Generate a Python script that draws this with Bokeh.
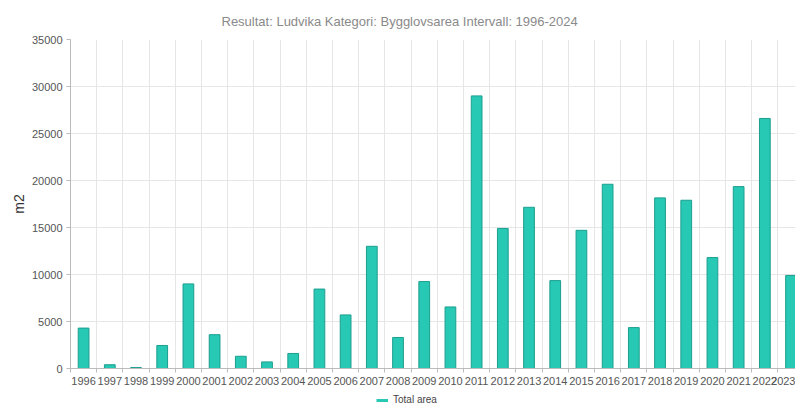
from bokeh.plotting import figure
from bokeh.layouts import column
from bokeh.models import Range1d, FixedTicker, Legend, LegendItem, ColumnDataSource
from bokeh.embed import file_html
from bokeh.resources import INLINE

years = [str(y) for y in range(1996, 2024)]
total_area = [4300, 400, 100, 2450, 9000, 3600, 1300, 700, 1600, 8450,
              5700, 13000, 3300, 9250, 6550, 29000, 14900, 17150, 9350, 14700,
              19600, 4350, 18150, 17900, 11800, 19350, 26600, 9900]
y_ticks = [0, 5000, 10000, 15000, 20000, 25000, 30000, 35000]
series_name = "Total area"

idx = list(range(len(years)))
src = ColumnDataSource(dict(x=idx, top=total_area, year=years))

FONT = "Liberation Sans"
BAR_FILL = "#27c9b5"
BAR_LINE = "#1c9e8f"

p = figure(width=795, height=390, output_backend="svg", toolbar_location=None,
           x_range=Range1d(-0.5, 27.17), y_range=Range1d(0, 35000),
           min_border_left=70, min_border_right=0, min_border_top=39,
           min_border_bottom=22)
p.outline_line_color = None
p.background_fill_color = "white"
p.border_fill_color = "white"

p.title.text = "Resultat: Ludvika Kategori: Bygglovsarea Intervall: 1996-2024"
p.title.align = "left"
p.title.offset = 151
p.title.standoff = 22
p.title.text_font = FONT
p.title.text_font_size = "13px"
p.title.text_font_style = "normal"
p.title.text_color = "#8a8a8a"

p.vbar(x="x", top="top", width=0.41, source=src,
       fill_color=BAR_FILL, line_color=BAR_LINE, line_width=1)

# x axis: labels at category centres, ticks/grid at category boundaries
centers = idx
bounds = [i - 0.5 for i in range(len(years) + 1)]
p.xaxis.ticker = FixedTicker(ticks=centers, minor_ticks=bounds)
p.xaxis.major_label_overrides = {i: y for i, y in zip(idx, years)}
p.xaxis.major_tick_line_color = None
p.xaxis.major_tick_out = 4
p.xaxis.minor_tick_out = 4
p.xaxis.minor_tick_in = 0
p.xaxis.minor_tick_line_color = "#bbbbbb"
p.xaxis.axis_line_color = "#bbbbbb"
p.xaxis.major_label_standoff = 4
p.xaxis.major_label_text_font = FONT
p.xaxis.major_label_text_font_size = "11px"
p.xaxis.major_label_text_color = "#555555"

p.xgrid.ticker = FixedTicker(ticks=centers, minor_ticks=bounds)
p.xgrid.grid_line_color = None
p.xgrid.minor_grid_line_color = "#e6e6e6"

# y axis
p.yaxis.ticker = FixedTicker(ticks=y_ticks)
p.yaxis.minor_tick_line_color = None
p.yaxis.major_tick_out = 4
p.yaxis.major_tick_in = 0
p.yaxis.major_tick_line_color = "#bbbbbb"
p.yaxis.axis_line_color = "#bbbbbb"
p.yaxis.major_label_standoff = 4
p.yaxis.major_label_text_font = FONT
p.yaxis.major_label_text_font_size = "11px"
p.yaxis.major_label_text_color = "#555555"
p.yaxis.axis_label = "m2"
p.yaxis.axis_label_text_font = FONT
p.yaxis.axis_label_text_font_size = "14px"
p.yaxis.axis_label_text_font_style = "normal"
p.yaxis.axis_label_text_color = "#333333"
p.yaxis.axis_label_standoff = 2
p.ygrid.grid_line_color = "#e6e6e6"

# legend strip below the chart (its own frame, so the legend is not clipped)
lg = figure(width=795, height=15, output_backend="svg", toolbar_location=None,
            x_range=Range1d(0, 1), y_range=Range1d(-2, -1),
            x_axis_location=None, y_axis_location=None,
            min_border_left=0, min_border_right=0, min_border_top=0,
            min_border_bottom=0)
lg.outline_line_color = None
lg.xgrid.visible = False
lg.ygrid.visible = False
# series drawn out of this strip's view; only its legend swatch shows
swatch = lg.line(x=idx, y=total_area, line_color=BAR_FILL, line_width=3)
legend = Legend(items=[LegendItem(label=series_name, renderers=[swatch])],
                orientation="horizontal", location=(306, 0),
                padding=0, margin=0, spacing=0, border_line_color=None,
                background_fill_alpha=0, glyph_width=12, glyph_height=10,
                label_standoff=5, label_text_font=FONT,
                label_text_font_size="10px", label_text_color="#444444",
                label_height=10)
lg.add_layout(legend)

layout = column(p, lg, spacing=0)
open("out.html", "w").write(file_html(layout, INLINE))
